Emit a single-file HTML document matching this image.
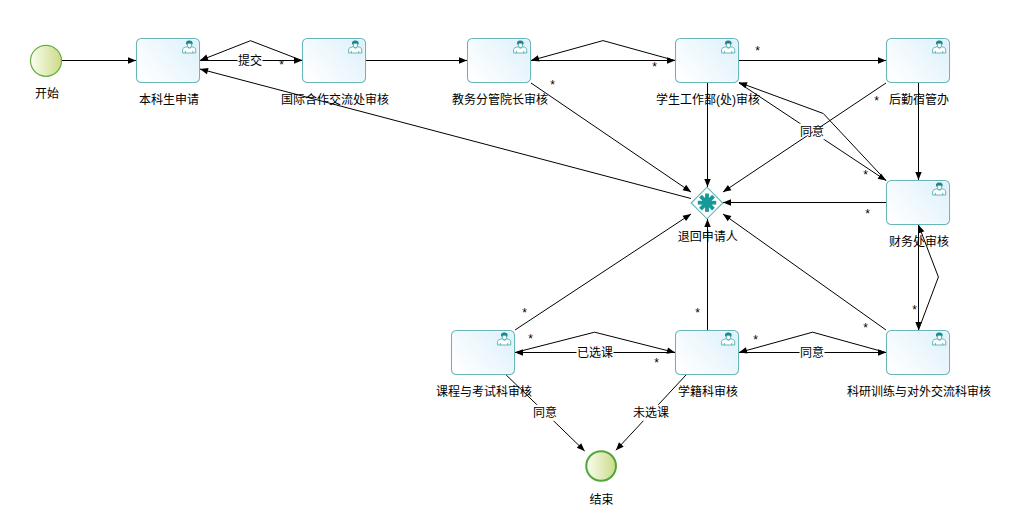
<!DOCTYPE html>
<html lang="zh"><head><meta charset="utf-8"><title>流程图</title>
<style>
html,body{margin:0;padding:0;background:#fff;}
body{width:1014px;height:530px;overflow:hidden;font-family:"Liberation Sans",sans-serif;}
svg{display:block;}
.t{font-family:"Liberation Sans","Noto Sans CJK SC",sans-serif;font-size:12px;fill:#000;}
.s{font-family:"Liberation Sans",sans-serif;font-size:12px;fill:#000;text-anchor:middle;}
</style></head><body>
<svg width="1014" height="530" viewBox="0 0 1014 530">
<defs>
<linearGradient id="tg" x1="0" y1="0.8" x2="1" y2="0.2"><stop offset="0" stop-color="#ffffff"/><stop offset="1" stop-color="#dff1fb"/></linearGradient>
<linearGradient id="sg" x1="0" y1="0" x2="1" y2="0"><stop offset="0" stop-color="#fbfdf0"/><stop offset="1" stop-color="#cbdb88"/></linearGradient>
<g id="user"><path d="M2.6 15.4V12C2.6 10.5 4.2 9.9 7.3 9.1C7.9 11 11.1 11 11.7 9.1C14.8 9.9 15.7 10.5 15.7 12V15.4Z" fill="#fff" stroke="#3fa7a4" stroke-width="0.8" stroke-linejoin="round"/><path d="M7.6 5.6V8C7.6 9.4 8.4 10.1 9.5 10.1S11.4 9.4 11.4 8V5.6Z" fill="#fff" stroke="#2a9a97" stroke-width="0.8"/><path d="M6.2 6.9C5.4 4.2 7 2.9 9.4 2.9S13.2 4.2 12.5 6.9L11.7 6.9C11.8 6 11.2 5.75 9.4 5.75S6.9 6 7 6.9Z" fill="#178a87"/><path d="M5.4 13.3V15.4M12.75 13.3V15.4" fill="none" stroke="#3fa7a4" stroke-width="0.8"/></g>
</defs>
<circle cx="46" cy="60.8" r="15.5" fill="url(#sg)" stroke="#62b044" stroke-width="1.2"/>
<text x="47.0" y="98.0" text-anchor="middle" class="t">开始</text>
<circle cx="601.1" cy="466" r="14.85" fill="url(#sg)" stroke="#4fa63a" stroke-width="2"/>
<text x="601.5" y="503.5" text-anchor="middle" class="t">结束</text>
<rect x="136.5" y="38.5" width="63" height="44" rx="4.5" fill="url(#tg)"/>
<rect x="137.5" y="39.5" width="61" height="42" rx="3.5" fill="none" stroke="#fff" stroke-opacity="0.6"/>
<rect x="136.5" y="38.5" width="63" height="44" rx="4.8" fill="none" stroke="#68b6b8" stroke-width="1.1"/>
<use href="#user" x="180.0" y="37.6"/>
<text x="169.0" y="104.0" text-anchor="middle" class="t">本科生申请</text>
<rect x="302.5" y="38.5" width="63" height="44" rx="4.5" fill="url(#tg)"/>
<rect x="303.5" y="39.5" width="61" height="42" rx="3.5" fill="none" stroke="#fff" stroke-opacity="0.6"/>
<rect x="302.5" y="38.5" width="63" height="44" rx="4.8" fill="none" stroke="#68b6b8" stroke-width="1.1"/>
<use href="#user" x="346.0" y="37.6"/>
<text x="335.0" y="104.0" text-anchor="middle" class="t">国际合作交流处审核</text>
<rect x="467.5" y="38.5" width="63" height="44" rx="4.5" fill="url(#tg)"/>
<rect x="468.5" y="39.5" width="61" height="42" rx="3.5" fill="none" stroke="#fff" stroke-opacity="0.6"/>
<rect x="467.5" y="38.5" width="63" height="44" rx="4.8" fill="none" stroke="#68b6b8" stroke-width="1.1"/>
<use href="#user" x="511.0" y="37.6"/>
<text x="500.0" y="104.0" text-anchor="middle" class="t">教务分管院长审核</text>
<rect x="675.5" y="38.5" width="63" height="44" rx="4.5" fill="url(#tg)"/>
<rect x="676.5" y="39.5" width="61" height="42" rx="3.5" fill="none" stroke="#fff" stroke-opacity="0.6"/>
<rect x="675.5" y="38.5" width="63" height="44" rx="4.8" fill="none" stroke="#68b6b8" stroke-width="1.1"/>
<use href="#user" x="719.0" y="37.6"/>
<text x="708.0" y="104.0" text-anchor="middle" class="t">学生工作部(处)审核</text>
<rect x="886.5" y="38.5" width="63" height="44" rx="4.5" fill="url(#tg)"/>
<rect x="887.5" y="39.5" width="61" height="42" rx="3.5" fill="none" stroke="#fff" stroke-opacity="0.6"/>
<rect x="886.5" y="38.5" width="63" height="44" rx="4.8" fill="none" stroke="#68b6b8" stroke-width="1.1"/>
<use href="#user" x="930.0" y="37.6"/>
<text x="919.0" y="104.0" text-anchor="middle" class="t">后勤宿管办</text>
<rect x="886.5" y="180.5" width="63" height="44" rx="4.5" fill="url(#tg)"/>
<rect x="887.5" y="181.5" width="61" height="42" rx="3.5" fill="none" stroke="#fff" stroke-opacity="0.6"/>
<rect x="886.5" y="180.5" width="63" height="44" rx="4.8" fill="none" stroke="#68b6b8" stroke-width="1.1"/>
<use href="#user" x="930.0" y="179.6"/>
<text x="919.0" y="246.0" text-anchor="middle" class="t">财务处审核</text>
<rect x="451.5" y="330.5" width="63" height="44" rx="4.5" fill="url(#tg)"/>
<rect x="452.5" y="331.5" width="61" height="42" rx="3.5" fill="none" stroke="#fff" stroke-opacity="0.6"/>
<rect x="451.5" y="330.5" width="63" height="44" rx="4.8" fill="none" stroke="#68b6b8" stroke-width="1.1"/>
<use href="#user" x="495.0" y="329.6"/>
<text x="484.0" y="396.0" text-anchor="middle" class="t">课程与考试科审核</text>
<rect x="675.5" y="330.5" width="63" height="44" rx="4.5" fill="url(#tg)"/>
<rect x="676.5" y="331.5" width="61" height="42" rx="3.5" fill="none" stroke="#fff" stroke-opacity="0.6"/>
<rect x="675.5" y="330.5" width="63" height="44" rx="4.8" fill="none" stroke="#68b6b8" stroke-width="1.1"/>
<use href="#user" x="719.0" y="329.6"/>
<text x="708.0" y="396.0" text-anchor="middle" class="t">学籍科审核</text>
<rect x="886.5" y="330.5" width="63" height="44" rx="4.5" fill="url(#tg)"/>
<rect x="887.5" y="331.5" width="61" height="42" rx="3.5" fill="none" stroke="#fff" stroke-opacity="0.6"/>
<rect x="886.5" y="330.5" width="63" height="44" rx="4.8" fill="none" stroke="#68b6b8" stroke-width="1.1"/>
<use href="#user" x="930.0" y="329.6"/>
<text x="919.0" y="396.0" text-anchor="middle" class="t">科研训练与对外交流科审核</text>
<path d="M691.2 203.0L707.0 187.2L722.8 203.0L707.0 218.8Z" fill="#fff" stroke="#62b4b2" stroke-width="1.1"/>
<g transform="translate(707.0 202.7)" fill="#149a97"><rect x="-1.9" y="-9.2" width="3.8" height="18.4" transform="rotate(0)"/><rect x="-1.9" y="-9.2" width="3.8" height="18.4" transform="rotate(45)"/><rect x="-1.9" y="-9.2" width="3.8" height="18.4" transform="rotate(90)"/><rect x="-1.9" y="-9.2" width="3.8" height="18.4" transform="rotate(135)"/><circle r="4.9"/></g>
<text x="707.8" y="241.0" text-anchor="middle" class="t">退回申请人</text>
<path d="M62.0 60.5L136.0 60.5" fill="none" stroke="#000" stroke-width="1"/>
<path d="M136.00 60.50L128.00 63.70L128.00 57.30Z"/>
<path d="M200.0 60.5L302.0 60.5" fill="none" stroke="#000" stroke-width="1"/>
<path d="M302.00 60.50L294.00 63.70L294.00 57.30Z"/>
<rect x="237.5" y="52.5" width="25.0" height="16" fill="#fff"/>
<text x="281.5" y="68.5" class="s">*</text>
<path d="M302.0 60.5L250.5 40.7L200.0 60.5" fill="none" stroke="#000" stroke-width="1"/>
<path d="M200.00 60.50L206.28 54.60L208.62 60.56Z"/>
<path d="M366.0 60.5L467.0 60.5" fill="none" stroke="#000" stroke-width="1"/>
<path d="M467.00 60.50L459.00 63.70L459.00 57.30Z"/>
<path d="M531.0 60.5L675.0 60.5" fill="none" stroke="#000" stroke-width="1"/>
<path d="M675.00 60.50L667.00 63.70L667.00 57.30Z"/>
<text x="654.5" y="70.5" class="s">*</text>
<path d="M675.0 60.5L603.0 40.6L531.0 60.5" fill="none" stroke="#000" stroke-width="1"/>
<path d="M531.00 60.50L537.86 55.28L539.56 61.45Z"/>
<path d="M739.0 60.5L886.0 60.5" fill="none" stroke="#000" stroke-width="1"/>
<path d="M886.00 60.50L878.00 63.70L878.00 57.30Z"/>
<text x="757.5" y="54.5" class="s">*</text>
<path d="M531.0 83.0L691.0 192.0" fill="none" stroke="#000" stroke-width="1"/>
<path d="M691.00 192.00L682.59 190.14L686.19 184.85Z"/>
<text x="552.5" y="88.5" class="s">*</text>
<path d="M707.5 83.0L707.5 187.0" fill="none" stroke="#000" stroke-width="1"/>
<path d="M707.50 187.00L704.30 179.00L710.70 179.00Z"/>
<path d="M691.0 198.5L200.0 69.0" fill="none" stroke="#000" stroke-width="1"/>
<path d="M200.00 69.00L208.55 67.95L206.92 74.13Z"/>
<path d="M918.5 83.0L918.5 180.0" fill="none" stroke="#000" stroke-width="1"/>
<path d="M918.50 180.00L915.30 172.00L921.70 172.00Z"/>
<path d="M739.0 83.0L886.0 180.5" fill="none" stroke="#000" stroke-width="1"/>
<path d="M886.00 180.50L877.56 178.74L881.10 173.41Z"/>
<rect x="799.5" y="123.5" width="25.0" height="16" fill="#fff"/>
<path d="M886.0 180.5L823.3 113.5L739.0 82.5" fill="none" stroke="#000" stroke-width="1"/>
<path d="M739.00 82.50L747.61 82.26L745.40 88.26Z"/>
<text x="865.5" y="178.5" class="s">*</text>
<path d="M886.0 83.0L723.0 192.0" fill="none" stroke="#000" stroke-width="1"/>
<path d="M723.00 192.00L727.87 184.89L731.43 190.21Z"/>
<text x="876.5" y="104.5" class="s">*</text>
<path d="M886.0 202.5L723.0 202.5" fill="none" stroke="#000" stroke-width="1"/>
<path d="M723.00 202.50L731.00 199.30L731.00 205.70Z"/>
<text x="867.5" y="217.5" class="s">*</text>
<path d="M918.5 225.0L918.5 330.0" fill="none" stroke="#000" stroke-width="1"/>
<path d="M918.50 330.00L915.30 322.00L921.70 322.00Z"/>
<text x="914.5" y="313.5" class="s">*</text>
<path d="M918.5 330.0L938.4 277.0L918.5 225.0" fill="none" stroke="#000" stroke-width="1"/>
<path d="M918.50 225.00L924.35 231.33L918.37 233.62Z"/>
<path d="M886.0 330.0L723.0 214.0" fill="none" stroke="#000" stroke-width="1"/>
<path d="M723.00 214.00L731.37 216.03L727.66 221.25Z"/>
<text x="865.5" y="331.5" class="s">*</text>
<path d="M739.0 352.5L886.0 352.5" fill="none" stroke="#000" stroke-width="1"/>
<path d="M886.00 352.50L878.00 355.70L878.00 349.30Z"/>
<rect x="799.5" y="344.5" width="25.0" height="16" fill="#fff"/>
<path d="M886.0 352.5L812.6 332.2L739.0 352.5" fill="none" stroke="#000" stroke-width="1"/>
<path d="M739.00 352.50L745.86 347.29L747.56 353.46Z"/>
<text x="755.5" y="343.5" class="s">*</text>
<path d="M707.5 330.0L707.5 219.0" fill="none" stroke="#000" stroke-width="1"/>
<path d="M707.50 219.00L710.70 227.00L704.30 227.00Z"/>
<text x="697.5" y="316.5" class="s">*</text>
<path d="M675.0 352.5L515.0 352.5" fill="none" stroke="#000" stroke-width="1"/>
<path d="M515.00 352.50L523.00 349.30L523.00 355.70Z"/>
<rect x="576.5" y="344.5" width="37.0" height="16" fill="#fff"/>
<text x="656.5" y="366.5" class="s">*</text>
<path d="M515.0 352.5L594.6 332.2L675.0 352.5" fill="none" stroke="#000" stroke-width="1"/>
<path d="M675.00 352.50L666.46 353.64L668.03 347.44Z"/>
<text x="530.5" y="342.5" class="s">*</text>
<path d="M515.0 330.0L691.0 214.0" fill="none" stroke="#000" stroke-width="1"/>
<path d="M691.00 214.00L686.08 221.07L682.56 215.73Z"/>
<text x="524.5" y="316.5" class="s">*</text>
<path d="M506.2 375.0L584.7 451.0" fill="none" stroke="#000" stroke-width="1"/>
<path d="M584.70 451.00L576.73 447.73L581.18 443.14Z"/>
<rect x="532.5" y="404.8" width="25.0" height="16" fill="#fff"/>
<path d="M686.0 375.0L615.9 450.3" fill="none" stroke="#000" stroke-width="1"/>
<path d="M615.90 450.30L619.01 442.26L623.69 446.63Z"/>
<rect x="632.5" y="404.8" width="37.0" height="16" fill="#fff"/>
<path d="M813 126H824.3V138H813ZM800.3 125.5H810.6V135.6H800.3Z" fill="#fff"/>
<text x="250.0" y="64.9" text-anchor="middle" class="t">提交</text>
<text x="812.0" y="135.9" text-anchor="middle" class="t">同意</text>
<text x="812.0" y="356.9" text-anchor="middle" class="t">同意</text>
<text x="595.0" y="356.9" text-anchor="middle" class="t">已选课</text>
<text x="545.0" y="417.2" text-anchor="middle" class="t">同意</text>
<text x="651.0" y="417.2" text-anchor="middle" class="t">未选课</text>
</svg>
</body></html>
